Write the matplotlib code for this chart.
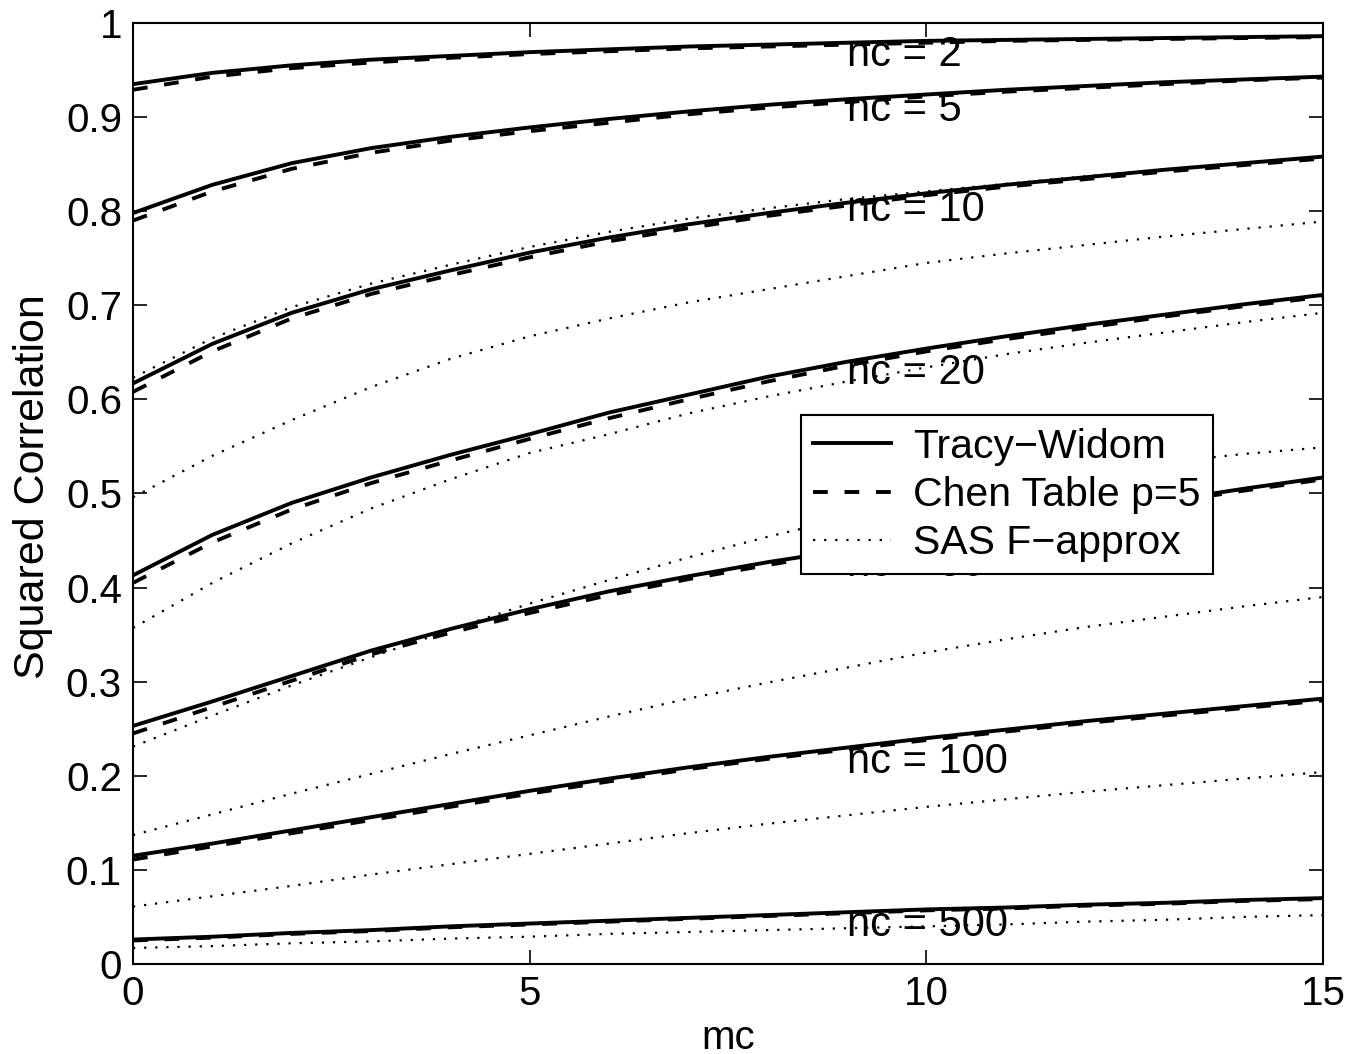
import matplotlib
matplotlib.use('Agg')
import matplotlib.pyplot as plt

plt.rcParams['font.family'] = ['Liberation Sans', 'DejaVu Sans']

# mc values (x axis)
mc = list(range(16))

nc_labels = ['nc = 2', 'nc = 5', 'nc = 10', 'nc = 20', 'nc = 50', 'nc = 100', 'nc = 500']
label_y = [0.966, 0.908, 0.801, 0.628, 0.424, 0.215, 0.041]

# Tracy-Widom approximation (solid)
tw = [
    [0.935, 0.947, 0.955, 0.961, 0.965, 0.969, 0.972, 0.975, 0.977, 0.979, 0.981, 0.982, 0.983, 0.984, 0.985, 0.986],
    [0.798, 0.828, 0.851, 0.867, 0.879, 0.889, 0.898, 0.906, 0.913, 0.919, 0.924, 0.929, 0.933, 0.937, 0.940, 0.943],
    [0.617, 0.659, 0.692, 0.717, 0.737, 0.756, 0.772, 0.786, 0.798, 0.809, 0.819, 0.828, 0.836, 0.844, 0.851, 0.858],
    [0.413, 0.456, 0.490, 0.517, 0.541, 0.563, 0.586, 0.605, 0.624, 0.640, 0.654, 0.667, 0.679, 0.690, 0.701, 0.711],
    [0.253, 0.279, 0.306, 0.333, 0.356, 0.377, 0.396, 0.412, 0.427, 0.440, 0.453, 0.466, 0.479, 0.492, 0.505, 0.517],
    [0.115, 0.128, 0.142, 0.156, 0.170, 0.184, 0.197, 0.209, 0.220, 0.230, 0.240, 0.249, 0.258, 0.266, 0.274, 0.282],
    [0.026, 0.029, 0.033, 0.036, 0.040, 0.043, 0.046, 0.049, 0.052, 0.055, 0.058, 0.060, 0.063, 0.065, 0.068, 0.070],
]

# Chen table p=5 (dashed)
chen = [
    [0.929, 0.943, 0.952, 0.958, 0.963, 0.967, 0.970, 0.973, 0.975, 0.977, 0.979, 0.981, 0.982, 0.983, 0.984, 0.985],
    [0.790, 0.821, 0.845, 0.862, 0.875, 0.885, 0.894, 0.903, 0.910, 0.916, 0.922, 0.927, 0.931, 0.935, 0.939, 0.942],
    [0.608, 0.651, 0.686, 0.712, 0.732, 0.751, 0.768, 0.782, 0.795, 0.806, 0.817, 0.826, 0.834, 0.842, 0.849, 0.856],
    [0.405, 0.448, 0.483, 0.511, 0.535, 0.558, 0.580, 0.600, 0.619, 0.636, 0.651, 0.664, 0.676, 0.688, 0.699, 0.709],
    [0.245, 0.273, 0.301, 0.329, 0.352, 0.373, 0.392, 0.409, 0.424, 0.438, 0.451, 0.464, 0.477, 0.490, 0.503, 0.515],
    [0.111, 0.125, 0.139, 0.153, 0.167, 0.181, 0.194, 0.207, 0.218, 0.228, 0.238, 0.247, 0.256, 0.264, 0.272, 0.280],
    [0.025, 0.028, 0.032, 0.035, 0.039, 0.042, 0.045, 0.048, 0.051, 0.054, 0.057, 0.059, 0.062, 0.064, 0.067, 0.069],
]

# SAS F-approximation (dotted)
sas = [
    [0.623, 0.665, 0.698, 0.723, 0.743, 0.762, 0.778, 0.792, 0.803, 0.813, 0.821, 0.829, 0.837, 0.844, 0.851, 0.857],
    [0.496, 0.540, 0.578, 0.613, 0.643, 0.667, 0.686, 0.703, 0.717, 0.731, 0.745, 0.755, 0.764, 0.773, 0.781, 0.789],
    [0.357, 0.405, 0.447, 0.484, 0.515, 0.543, 0.563, 0.585, 0.603, 0.619, 0.634, 0.648, 0.660, 0.671, 0.682, 0.692],
    [0.231, 0.264, 0.296, 0.326, 0.355, 0.383, 0.408, 0.432, 0.454, 0.474, 0.492, 0.507, 0.521, 0.533, 0.542, 0.549],
    [0.137, 0.159, 0.181, 0.202, 0.223, 0.243, 0.263, 0.282, 0.299, 0.315, 0.331, 0.345, 0.358, 0.369, 0.380, 0.390],
    [0.061, 0.072, 0.083, 0.095, 0.106, 0.117, 0.128, 0.139, 0.149, 0.158, 0.167, 0.175, 0.183, 0.190, 0.197, 0.204],
    [0.017, 0.019, 0.022, 0.024, 0.027, 0.029, 0.032, 0.034, 0.036, 0.038, 0.040, 0.042, 0.045, 0.047, 0.050, 0.052],
]

fig = plt.figure(figsize=(13.53, 10.54), dpi=100)
ax = fig.add_axes([0.0983, 0.0854, 0.8795, 0.8928])

for i in range(len(tw)):
    ax.plot(mc, tw[i], color='black', lw=2.8,
            label='Tracy\u2212Widom' if i == 0 else None)
    ax.plot(mc, chen[i], color='black', lw=2.8, dashes=(3.8, 4.3),
            label='Chen Table p=5' if i == 0 else None)
    ax.plot(mc, sas[i], color='black', lw=1.6, dashes=(1, 4),
            label='SAS F\u2212approx' if i == 0 else None)

for lab, y in zip(nc_labels, label_y):
    ax.text(9.0, y, lab, fontsize=30, va='center', ha='left')

ax.set_xlim(0, 15)
ax.set_ylim(0, 1)
ax.set_xticks([0, 5, 10, 15])
ax.set_yticks([0, 0.1, 0.2, 0.3, 0.4, 0.5, 0.6, 0.7, 0.8, 0.9, 1])
ax.set_yticklabels(['0', '0.1', '0.2', '0.3', '0.4', '0.5', '0.6', '0.7', '0.8', '0.9', '1'])
ax.tick_params(direction='in', length=10, width=1.2, top=True, right=True,
               labelsize=29, pad=8)
for s in ax.spines.values():
    s.set_linewidth(1.5)

ax.set_xlabel('mc', fontsize=29, labelpad=4)
ax.set_ylabel('Squared Correlation', fontsize=31)
ax.yaxis.set_label_coords(-0.067, 0.507)

leg = ax.legend(loc='upper left', bbox_to_anchor=(0.561, 0.583), fontsize=29.5,
                fancybox=False, framealpha=1, edgecolor='black',
                handlelength=1.9, handletextpad=0.55, borderpad=0.3,
                labelspacing=0.25, borderaxespad=0)
leg.get_frame().set_linewidth(1.5)
leg.set_zorder(5)

fig.savefig('out.png', dpi=100)
